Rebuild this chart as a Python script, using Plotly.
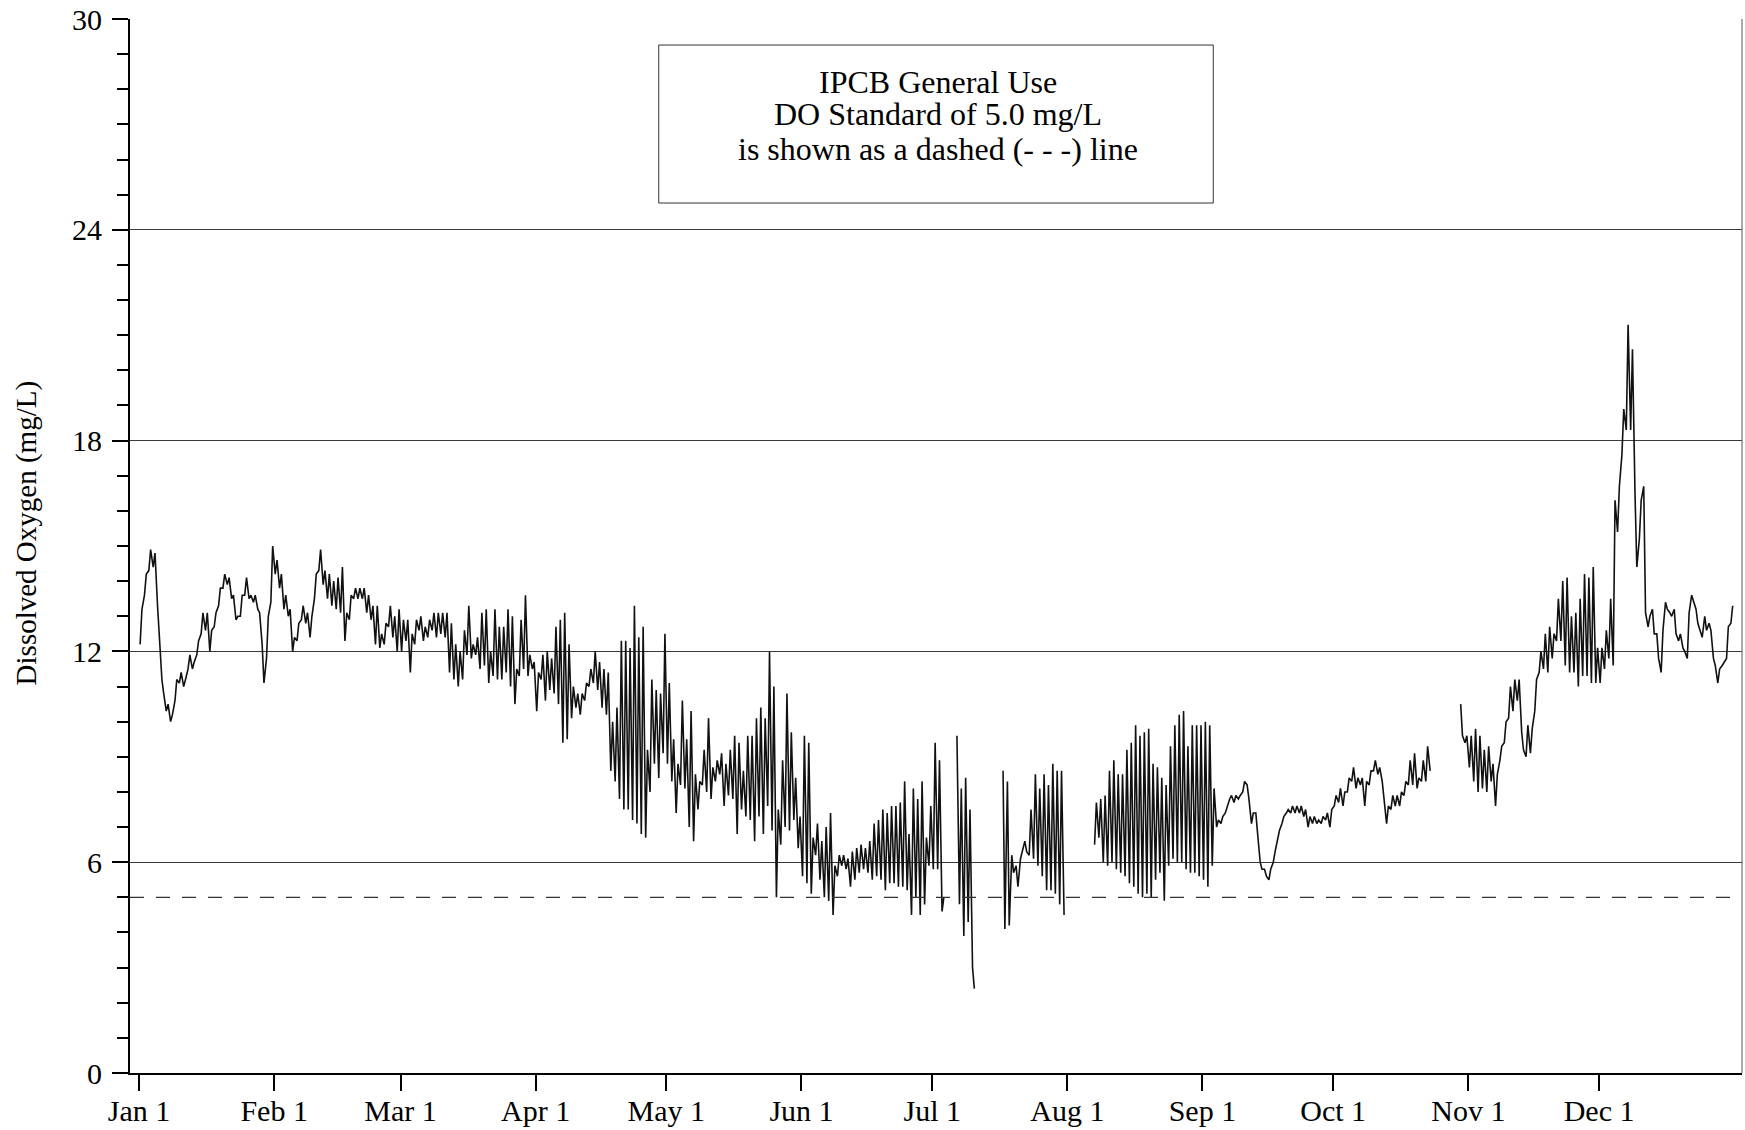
import plotly.graph_objects as go
from datetime import datetime, timedelta

# ---------------- data (mg/L) : two readings per day, ~06:00 and ~16:00 ----------------
year_start = datetime(2004, 1, 1)
month_labels = ["Jan 1", "Feb 1", "Mar 1", "Apr 1", "May 1", "Jun 1",
                "Jul 1", "Aug 1", "Sep 1", "Oct 1", "Nov 1", "Dec 1"]
y_tick_vals = [0, 6, 12, 18, 24, 30]
do_standard = 5.0

jan_am = [12.2, 13.6, 14.3, 14.4, 13.3, 11.2, 10.3, 10.0, 10.6, 11.1, 11.0, 11.5, 11.5, 11.9, 12.5, 12.6,
          12.0, 12.7, 13.3, 13.8, 13.9, 13.5, 12.9, 13.0, 13.6, 13.5, 13.4, 13.2, 12.2, 11.8, 13.4]
jan_pm = [13.2, 14.2, 14.9, 14.8, 12.4, 10.8, 10.5, 10.2, 11.2, 11.4, 11.2, 11.9, 11.7, 12.3, 13.1, 13.1,
          12.6, 13.1, 13.8, 14.2, 14.1, 13.6, 13.0, 13.6, 14.1, 13.6, 13.6, 13.1, 11.1, 13.0, 15.0]
feb_am = [14.2, 13.8, 13.2, 13.0, 12.0, 12.3, 12.9, 12.8, 12.4, 13.5, 14.3, 13.9, 13.5, 13.3, 13.2,
          13.1, 12.3, 12.9, 13.5, 13.5, 13.5, 13.1, 12.9, 12.2, 12.1, 12.2, 12.7, 12.4, 12.0]
feb_pm = [14.6, 14.2, 13.6, 13.2, 12.4, 12.8, 13.3, 13.1, 13.0, 14.2, 14.9, 14.3, 14.2, 14.0, 14.1,
          14.4, 13.1, 13.6, 13.8, 13.8, 13.8, 13.6, 13.3, 13.3, 12.5, 12.8, 13.3, 13.0, 13.2]
mar_am = [12.0, 12.3, 11.4, 12.2, 12.6, 12.3, 12.4, 12.6, 12.4, 12.5, 12.4, 11.4, 11.2, 11.0, 11.2, 11.9,
          11.8, 11.9, 11.5, 11.6, 11.1, 11.3, 11.2, 11.2, 11.4, 11.0, 10.5, 11.3, 11.5, 11.3, 11.5]
mar_pm = [12.9, 12.9, 12.5, 12.9, 13.0, 12.7, 12.9, 13.1, 13.1, 13.1, 13.1, 12.8, 12.2, 12.0, 12.6, 13.3,
          12.2, 12.4, 13.1, 13.2, 12.0, 13.2, 12.7, 12.7, 13.2, 13.0, 11.5, 12.9, 13.6, 11.9, 11.7]
apr_am = [10.3, 11.2, 10.6, 10.9, 10.8, 10.5, 9.4, 9.5, 10.1, 10.4, 10.2, 10.6, 11.0, 11.1, 10.9,
          10.4, 10.2, 8.6, 8.3, 7.8, 7.5, 7.5, 7.2, 7.1, 6.8, 6.7, 8.0, 8.8, 8.4, 9.1]
apr_pm = [11.4, 11.9, 12.0, 11.8, 12.7, 12.9, 13.1, 12.2, 11.0, 10.8, 10.8, 11.1, 11.5, 12.0, 11.7,
          11.5, 11.4, 10.0, 10.4, 12.3, 12.3, 12.1, 13.3, 12.4, 12.7, 9.2, 11.2, 10.9, 10.8, 12.5]
may_am = [8.8, 8.3, 7.4, 8.2, 8.1, 7.0, 6.6, 7.5, 8.2, 8.0, 7.8, 8.3, 8.5, 7.6, 7.9, 7.8,
          6.8, 7.5, 7.3, 7.2, 6.6, 7.3, 6.8, 7.6, 6.9, 5.0, 6.5, 7.0, 6.9, 7.2, 6.4]
may_pm = [11.1, 9.5, 8.8, 10.6, 9.5, 10.3, 8.5, 8.3, 9.2, 10.1, 8.7, 8.9, 9.1, 8.8, 9.2, 9.6,
          9.4, 8.6, 9.6, 9.6, 10.1, 10.4, 10.1, 12.0, 11.0, 7.5, 8.9, 10.8, 9.7, 8.4, 7.3]
jun_am = [5.6, 5.4, 5.1, 6.2, 5.5, 5.0, 4.9, 4.5, 5.6, 5.9, 5.8, 5.3, 5.5, 5.7, 5.8,
          5.7, 5.5, 5.6, 5.5, 5.2, 5.4, 5.4, 5.3, 5.3, 5.2, 4.5, 5.0, 4.5, 4.8, 5.9]
jun_pm = [9.6, 9.4, 6.7, 7.1, 6.6, 7.0, 7.4, 5.9, 6.2, 6.2, 6.1, 6.3, 6.4, 6.5, 6.4,
          6.6, 7.1, 7.2, 7.5, 7.4, 7.6, 7.6, 7.7, 8.3, 6.8, 8.1, 7.8, 8.3, 6.7, 7.6]
jul_am = [5.8, 5.8, 4.6, None, None, None, 4.8, 3.9, 4.3, 3.0, None, None, None, None, None, None,
          8.6, 8.3, 6.2, 5.9, 6.1, 6.6, 6.2, 6.1, 5.9, 5.6, 5.2, 5.2, 5.1, 4.8, 4.5]
jul_pm = [9.4, 8.9, 5.0, None, None, 9.6, 8.1, 8.4, 7.5, 2.4, None, None, None, None, None, None,
          4.1, 4.2, 5.7, 5.3, 6.3, 6.3, 7.5, 8.5, 8.1, 8.5, 8.2, 8.8, 8.6, 8.6, None]
aug_am = [None, None, None, None, None, None, 6.5, 6.7, 6.0, 5.9, 6.0, 5.8, 5.7, 5.6, 5.4, 5.3,
          5.1, 5.0, 5.1, 5.0, 5.5, 5.7, 4.9, 5.9, 6.1, 6.0, 6.0, 5.8, 5.7, 5.7, 5.6]
aug_pm = [None, None, None, None, None, None, 7.7, 7.8, 7.9, 8.6, 8.9, 8.5, 8.5, 9.2, 9.4, 9.9,
          9.6, 9.7, 9.8, 8.8, 8.7, 8.4, 8.2, 9.3, 9.9, 10.2, 10.3, 9.3, 9.9, 9.9, 9.9]
sep_am = [5.5, 5.3, 5.9, 7.0, 7.1, 7.4, 7.8, 7.7, 7.8, 8.0, 8.2, 7.1, 7.4, 6.0, 5.8,
          5.5, 6.0, 6.6, 7.1, 7.4, 7.4, 7.4, 7.4, 7.3, 7.0, 7.1, 7.1, 7.1, 7.2, 7.0]
sep_pm = [10.0, 9.9, 8.1, 7.2, 7.3, 7.6, 7.9, 7.9, 7.9, 8.3, 7.8, 7.4, 6.8, 5.8, 5.6,
          5.8, 6.3, 6.9, 7.3, 7.5, 7.6, 7.6, 7.6, 7.5, 7.3, 7.3, 7.2, 7.3, 7.4, 7.5]
oct_am = [7.6, 7.7, 7.6, 8.0, 8.3, 8.1, 8.2, 7.6, 8.2, 8.6, 8.5, 8.3, 7.1, 7.5, 7.6, 7.6,
          7.9, 8.2, 8.2, 8.1, 8.3, 8.3, 8.6, None, None, None, None, None, None, 10.5, 9.4]
oct_pm = [7.9, 8.1, 8.0, 8.4, 8.7, 8.4, 8.4, 8.3, 8.6, 8.9, 8.7, 7.8, 7.6, 7.9, 7.9, 8.0,
          8.3, 8.9, 9.1, 8.4, 8.9, 9.3, None, None, None, None, None, None, None, 9.6, 9.6]
nov_am = [8.7, 8.3, 8.0, 8.1, 8.0, 8.3, 7.6, 8.9, 9.4, 10.1, 10.3, 10.6, 9.7, 9.0, 9.1,
          10.3, 11.4, 11.5, 11.4, 11.8, 12.3, 12.3, 11.6, 11.4, 11.4, 11.0, 11.3, 11.3, 11.1, 11.1]
nov_pm = [9.6, 9.8, 9.6, 9.2, 9.3, 8.8, 8.5, 9.3, 10.0, 11.0, 11.2, 11.2, 9.2, 9.9, 9.8,
          11.2, 12.0, 12.5, 12.7, 12.5, 13.5, 14.0, 14.1, 13.0, 13.1, 13.5, 14.2, 14.1, 14.4, 12.1]
dec_am = [11.1, 11.5, 11.8, 11.6, 15.4, 17.6, 18.3, 18.3, 16.5, 15.2, 16.7, 12.7, 13.2, 12.5, 11.4, 13.4,
          13.1, 13.2, 12.3, 12.1, 11.8, 13.6, 13.2, 12.6, 13.0, 12.8, 11.8, 11.1, 11.6, 11.8, 12.8]
dec_pm = [12.1, 12.6, 13.5, 16.3, 16.7, 18.9, 21.3, 20.6, 14.4, 16.3, 13.1, 13.0, 12.5, 11.8, 12.6, 13.2,
          13.0, 12.5, 12.5, 12.0, 13.1, 13.4, 12.8, 12.4, 12.6, 12.6, 11.6, 11.5, 11.7, 12.7, 13.3]

do_am = jan_am + feb_am + mar_am + apr_am + may_am + jun_am + jul_am + aug_am + sep_am + oct_am + nov_am + dec_am
do_pm = jan_pm + feb_pm + mar_pm + apr_pm + may_pm + jun_pm + jul_pm + aug_pm + sep_pm + oct_pm + nov_pm + dec_pm

# ---------------- build time series ----------------
times, values = [], []
for d, (a, p) in enumerate(zip(do_am, do_pm)):
    times.append(year_start + timedelta(days=d, hours=6))
    values.append(a)
    times.append(year_start + timedelta(days=d, hours=16))
    values.append(p)

month_ticks = [datetime(2004, m, 1) for m in range(1, 13)]

FONT = "Liberation Serif, Times New Roman, serif"

fig = go.Figure()
fig.add_trace(go.Scatter(x=times, y=values, mode="lines",
                         line=dict(color="#111111", width=1.6),
                         connectgaps=False, showlegend=False, hoverinfo="skip"))

fig.update_layout(
    width=1745, height=1130,
    margin=dict(l=130, r=3, t=19, b=57, autoexpand=False),
    paper_bgcolor="white", plot_bgcolor="white",
    font=dict(family=FONT, size=30, color="black"),
    showlegend=False,
)

fig.update_xaxes(
    type="date",
    range=[year_start - timedelta(days=2.07), year_start + timedelta(days=367.8)],
    tickmode="array", tickvals=month_ticks, ticktext=month_labels,
    ticks="outside", ticklen=16, tickwidth=2, tickcolor="black",
    ticklabelstandoff=-6,
    showline=True, linewidth=2, linecolor="black",
    showgrid=False, zeroline=False,
    tickfont=dict(family=FONT, size=30, color="black"),
)

fig.update_yaxes(
    range=[0, 30], tickmode="array", tickvals=y_tick_vals,
    ticks="outside", ticklen=16, tickwidth=2, tickcolor="black",
    ticklabelstandoff=4,
    minor=dict(dtick=1, tick0=0, ticks="outside", ticklen=11, tickwidth=2,
               tickcolor="black", showgrid=False),
    showline=True, linewidth=2, linecolor="black",
    showgrid=True, gridcolor="#3a3a3a", gridwidth=1,
    zeroline=False,
    tickfont=dict(family=FONT, size=30, color="black"),
)

# standard line (dashed), right border, annotation box
fig.add_shape(type="line", xref="paper", yref="y", x0=0, x1=1, y0=do_standard, y1=do_standard,
              line=dict(color="#333333", width=1.2, dash="14px,12px"))
fig.add_shape(type="line", xref="paper", yref="paper", x0=1, x1=1, y0=0, y1=1,
              line=dict(color="#555555", width=1))
fig.add_shape(type="rect", xref="paper", yref="paper", x0=0.328, x1=0.672, y0=0.8254, y1=0.9753,
              line=dict(color="#333333", width=1), fillcolor="rgba(0,0,0,0)")

box_lines = ["IPCB General Use", "DO Standard of 5.0 mg/L", "is shown as a dashed (- - -) line"]
box_line_y = [0.9402, 0.9094, 0.8767]
for txt, yy in zip(box_lines, box_line_y):
    fig.add_annotation(text=txt, xref="paper", yref="paper", x=0.501, y=yy,
                       xanchor="center", yanchor="middle", showarrow=False,
                       font=dict(family=FONT, size=32, color="black"))

fig.add_annotation(text="Dissolved Oxygen (mg/L)", xref="paper", yref="paper",
                   x=-0.0645, y=0.512, xanchor="center", yanchor="middle",
                   textangle=-90, showarrow=False,
                   font=dict(family=FONT, size=29, color="black"))

fig.write_html("out.html", config={"displayModeBar": False},
               post_script="document.body.style.margin='0';document.body.style.padding='0';")
